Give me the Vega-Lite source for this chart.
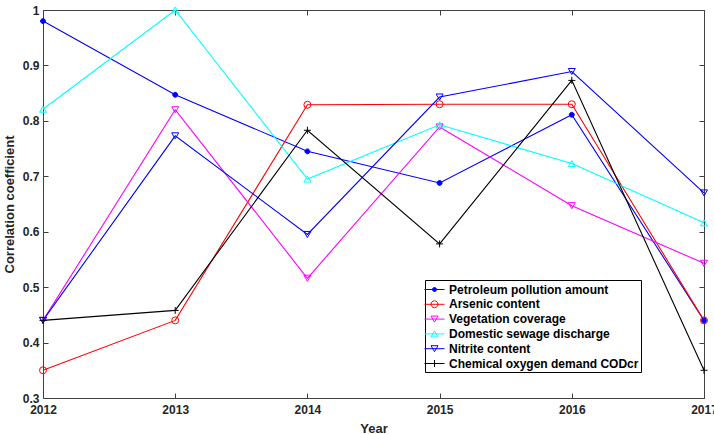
{
  "$schema": "https://vega.github.io/schema/vega-lite/v6.json",
  "width": 661,
  "height": 388,
  "autosize": "none",
  "padding": {"left": 43, "top": 10, "right": 10, "bottom": 36},
  "background": "white",
  "config": {
    "font": "Liberation Sans",
    "view": {"stroke": "#404040", "strokeWidth": 1},
    "axis": {
      "labelFont": "Liberation Sans",
      "labelFontSize": 12,
      "labelFontWeight": "bold",
      "labelColor": "#262626",
      "labelFlush": false,
      "titleFont": "Liberation Sans",
      "titleFontSize": 13,
      "titleFontWeight": "bold",
      "titleColor": "#262626",
      "domain": false,
      "grid": false,
      "tickColor": "#404040",
      "tickSize": -5,
      "tickWidth": 1
    },
    "legend": {
      "labelFont": "Liberation Sans",
      "labelFontSize": 12,
      "labelFontWeight": "bold",
      "labelColor": "#000000",
      "labelLimit": 400
    }
  },
  "data": {
    "values": [
      {"year": 2012, "series": "Petroleum pollution amount", "value": 0.98},
      {"year": 2013, "series": "Petroleum pollution amount", "value": 0.847},
      {"year": 2014, "series": "Petroleum pollution amount", "value": 0.745},
      {"year": 2015, "series": "Petroleum pollution amount", "value": 0.688},
      {"year": 2016, "series": "Petroleum pollution amount", "value": 0.811},
      {"year": 2017, "series": "Petroleum pollution amount", "value": 0.44},
      {"year": 2012, "series": "Arsenic content", "value": 0.35},
      {"year": 2013, "series": "Arsenic content", "value": 0.44},
      {"year": 2014, "series": "Arsenic content", "value": 0.829},
      {"year": 2015, "series": "Arsenic content", "value": 0.83},
      {"year": 2016, "series": "Arsenic content", "value": 0.83},
      {"year": 2017, "series": "Arsenic content", "value": 0.44},
      {"year": 2012, "series": "Vegetation coverage", "value": 0.44},
      {"year": 2013, "series": "Vegetation coverage", "value": 0.82},
      {"year": 2014, "series": "Vegetation coverage", "value": 0.516},
      {"year": 2015, "series": "Vegetation coverage", "value": 0.789},
      {"year": 2016, "series": "Vegetation coverage", "value": 0.647},
      {"year": 2017, "series": "Vegetation coverage", "value": 0.543},
      {"year": 2012, "series": "Domestic sewage discharge", "value": 0.821},
      {"year": 2013, "series": "Domestic sewage discharge", "value": 1.0},
      {"year": 2014, "series": "Domestic sewage discharge", "value": 0.695},
      {"year": 2015, "series": "Domestic sewage discharge", "value": 0.793},
      {"year": 2016, "series": "Domestic sewage discharge", "value": 0.723},
      {"year": 2017, "series": "Domestic sewage discharge", "value": 0.616},
      {"year": 2012, "series": "Nitrite content", "value": 0.44},
      {"year": 2013, "series": "Nitrite content", "value": 0.773},
      {"year": 2014, "series": "Nitrite content", "value": 0.595},
      {"year": 2015, "series": "Nitrite content", "value": 0.843},
      {"year": 2016, "series": "Nitrite content", "value": 0.889},
      {"year": 2017, "series": "Nitrite content", "value": 0.67},
      {"year": 2012, "series": "Chemical oxygen demand CODcr", "value": 0.44},
      {"year": 2013, "series": "Chemical oxygen demand CODcr", "value": 0.458},
      {"year": 2014, "series": "Chemical oxygen demand CODcr", "value": 0.783},
      {"year": 2015, "series": "Chemical oxygen demand CODcr", "value": 0.578},
      {"year": 2016, "series": "Chemical oxygen demand CODcr", "value": 0.873},
      {"year": 2017, "series": "Chemical oxygen demand CODcr", "value": 0.35}
    ]
  },
  "resolve": {
    "scale": {"stroke": "independent", "fill": "independent", "shape": "independent"},
    "axis": {"x": "independent", "y": "independent"}
  },
  "layer": [
    {
      "mark": {"type": "line", "strokeWidth": 1.1},
      "encoding": {
        "x": {"field": "year", "type": "quantitative",
              "scale": {"domain": [2012, 2017], "nice": false, "zero": false},
              "axis": {"orient": "bottom", "title": "Year", "values": [2012, 2013, 2014, 2015, 2016, 2017], "format": "d", "labelPadding": 11, "titlePadding": 7}},
        "y": {"field": "value", "type": "quantitative",
              "scale": {"domain": [0.3, 1], "nice": false, "zero": false},
              "axis": {"orient": "left", "title": "Correlation coefficient", "values": [0.3, 0.4, 0.5, 0.6, 0.7, 0.8, 0.9, 1], "format": "~g", "labelPadding": 9, "titlePadding": 6}},
        "stroke": {"field": "series", "type": "nominal", "legend": null,
                   "scale": {"domain": ["Petroleum pollution amount", "Arsenic content", "Vegetation coverage", "Domestic sewage discharge", "Nitrite content", "Chemical oxygen demand CODcr"],
                             "range": ["#0000FF", "#FF0000", "#FF00FF", "#00FFFF", "#0000FF", "#000000"]}},
        "order": {"field": "year"}
      }
    },
    {
      "mark": {"type": "point", "size": 49, "strokeWidth": 1, "opacity": 1},
      "encoding": {
        "x": {"field": "year", "type": "quantitative", "axis": null},
        "y": {"field": "value", "type": "quantitative", "axis": null},
        "stroke": {"field": "series", "type": "nominal", "legend": null,
                   "scale": {"domain": ["Petroleum pollution amount", "Arsenic content", "Vegetation coverage", "Domestic sewage discharge", "Nitrite content", "Chemical oxygen demand CODcr"],
                             "range": ["#0000FF", "#FF0000", "#FF00FF", "#00FFFF", "#0000FF", "#000000"]}},
        "fill": {"field": "series", "type": "nominal", "legend": null,
                 "scale": {"domain": ["Petroleum pollution amount", "Arsenic content", "Vegetation coverage", "Domestic sewage discharge", "Nitrite content", "Chemical oxygen demand CODcr"],
                           "range": ["#0000FF", "transparent", "transparent", "transparent", "transparent", "transparent"]}},
        "shape": {"field": "series", "type": "nominal", "legend": null,
                  "scale": {"domain": ["Petroleum pollution amount", "Arsenic content", "Vegetation coverage", "Domestic sewage discharge", "Nitrite content", "Chemical oxygen demand CODcr"],
                            "range": ["M-0.7,0A0.7,0.7 0 1,0 0.7,0A0.7,0.7 0 1,0 -0.7,0Z", "circle", "triangle-down", "triangle-up", "triangle-down", "M-1,0H1M0,-1V1"]}}
      }
    },
    {
      "mark": {"type": "point", "size": 196, "strokeWidth": 1, "opacity": 0},
      "encoding": {
        "x": {"field": "year", "type": "quantitative", "axis": null},
        "y": {"field": "value", "type": "quantitative", "axis": null},
        "stroke": {"field": "series", "type": "nominal", "title": null,
                   "scale": {"domain": ["Petroleum pollution amount", "Arsenic content", "Vegetation coverage", "Domestic sewage discharge", "Nitrite content", "Chemical oxygen demand CODcr"],
                             "range": ["#0000FF", "#FF0000", "#FF00FF", "#00FFFF", "#0000FF", "#000000"]},
                   "legend": {"orient": "none", "legendX": 382, "legendY": 270, "strokeColor": "#000000", "fillColor": "white", "padding": 2, "symbolOpacity": 1, "symbolSize": 196, "symbolStrokeWidth": 1, "rowPadding": 0.8, "labelOffset": 7, "offset": 0}},
        "fill": {"field": "series", "type": "nominal", "title": null,
                 "scale": {"domain": ["Petroleum pollution amount", "Arsenic content", "Vegetation coverage", "Domestic sewage discharge", "Nitrite content", "Chemical oxygen demand CODcr"],
                           "range": ["#0000FF", "transparent", "transparent", "transparent", "transparent", "transparent"]},
                 "legend": {"orient": "none", "legendX": 382, "legendY": 270, "strokeColor": "#000000", "fillColor": "white", "padding": 2, "symbolOpacity": 1, "symbolSize": 196, "symbolStrokeWidth": 1, "rowPadding": 0.8, "labelOffset": 7, "offset": 0}},
        "shape": {"field": "series", "type": "nominal", "title": null,
                  "scale": {"domain": ["Petroleum pollution amount", "Arsenic content", "Vegetation coverage", "Domestic sewage discharge", "Nitrite content", "Chemical oxygen demand CODcr"],
                            "range": ["M-1.43,0H1.43M-0.29,0A0.29,0.29 0 1,0 0.29,0A0.29,0.29 0 1,0 -0.29,0Z", "M-1.43,0H1.43M-0.5,0A0.5,0.5 0 1,0 0.5,0A0.5,0.5 0 1,0 -0.5,0Z", "M-1.43,0H1.43M-0.5,-0.43L0.5,-0.43L0,0.43Z", "M-1.43,0H1.43M-0.5,0.43L0.5,0.43L0,-0.43Z", "M-1.43,0H1.43M-0.5,-0.43L0.5,-0.43L0,0.43Z", "M-1.43,0H1.43M0,-0.5V0.5"]},
                  "legend": {"orient": "none", "legendX": 382, "legendY": 270, "strokeColor": "#000000", "fillColor": "white", "padding": 2, "symbolOpacity": 1, "symbolSize": 196, "symbolStrokeWidth": 1, "rowPadding": 0.8, "labelOffset": 7, "offset": 0}}
      }
    },
    {
      "mark": {"type": "point", "opacity": 0},
      "encoding": {
        "x": {"field": "year", "type": "quantitative",
              "axis": {"orient": "top", "title": null, "labels": false, "values": [2012, 2013, 2014, 2015, 2016, 2017]}},
        "y": {"field": "value", "type": "quantitative",
              "axis": {"orient": "right", "title": null, "labels": false, "values": [0.3, 0.4, 0.5, 0.6, 0.7, 0.8, 0.9, 1]}}
      }
    }
  ]
}
